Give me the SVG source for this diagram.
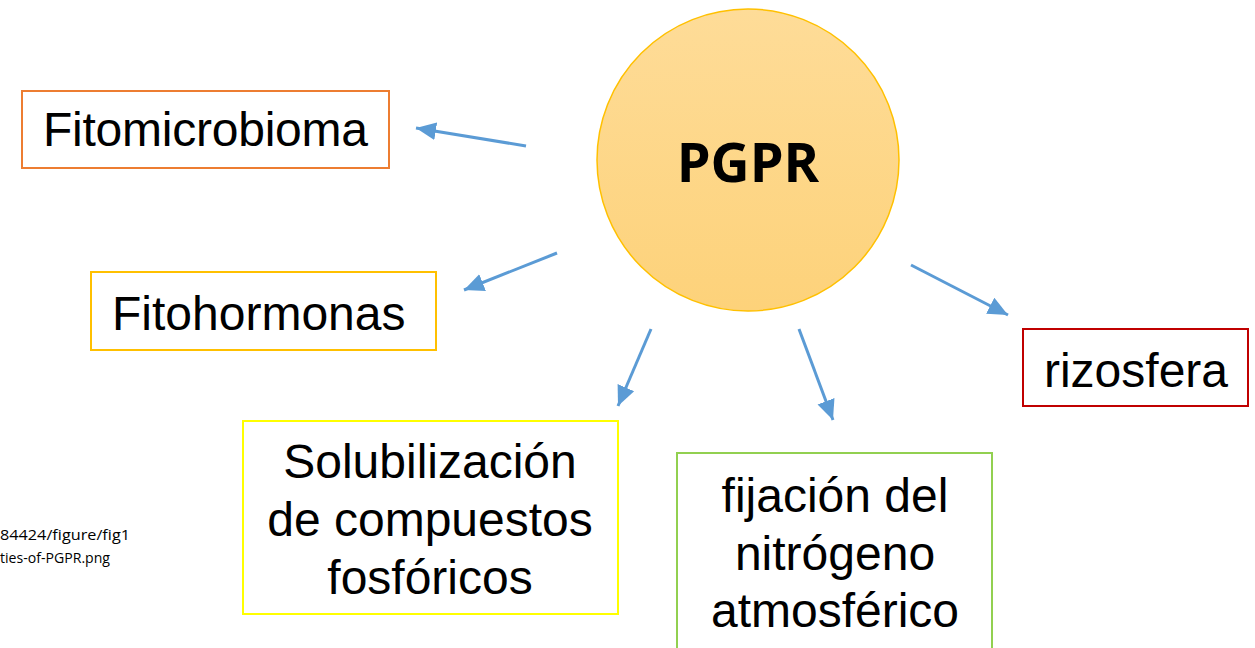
<svg xmlns="http://www.w3.org/2000/svg" width="1255" height="648" viewBox="0 0 1255 648">
<style>
.box{fill:#fff;stroke-width:2}
.t{font-family:"Liberation Sans",Arial,sans-serif;font-size:48px;fill:#000}
.c{text-anchor:middle}
.conn{stroke:#5B9BD5;stroke-width:3;fill:none}
.src{font-family:"Open Sans","Liberation Sans",sans-serif;font-size:14px;fill:#000}
</style>
<defs>
<linearGradient id="g" x1="0" y1="0" x2="0" y2="1">
<stop offset="0" stop-color="#FEDC98"/>
<stop offset="1" stop-color="#FDD27A"/>
</linearGradient>
<marker id="ah" markerUnits="userSpaceOnUse" markerWidth="22" markerHeight="22" viewBox="0 0 22 22" refX="20" refY="11" orient="auto">
<path d="M0,2 L20,11 L0,20 Z" fill="#5B9BD5"/>
</marker>
</defs>
<rect width="1255" height="648" fill="#fff"/>
<g id="source">
<text class="src" x="0" y="540" textLength="130" lengthAdjust="spacingAndGlyphs">84424/figure/fig1</text>
<text class="src" x="0" y="563" textLength="110" lengthAdjust="spacingAndGlyphs">ties-of-PGPR.png</text>
</g>
<g id="connectors">
<line class="conn" x1="526" y1="146" x2="416" y2="128" marker-end="url(#ah)"/>
<line class="conn" x1="557" y1="253" x2="464" y2="290" marker-end="url(#ah)"/>
<line class="conn" x1="651" y1="329" x2="618" y2="406" marker-end="url(#ah)"/>
<line class="conn" x1="799" y1="329" x2="833" y2="420" marker-end="url(#ah)"/>
<line class="conn" x1="911" y1="265" x2="1008" y2="315" marker-end="url(#ah)"/>
</g>
<g id="pgpr">
<circle cx="748" cy="160" r="151" fill="url(#g)" stroke="#FFC000" stroke-width="1.5"/>
<text x="748" y="182" text-anchor="middle" font-family="'Open Sans','Liberation Sans',sans-serif" font-weight="bold" font-size="54">PGPR</text>
</g>
<g id="fitomicrobioma">
<rect class="box" x="22" y="91" width="367" height="77" stroke="#ED7D31"/>
<text class="t" x="43" y="146" textLength="325">Fitomicrobioma</text>
</g>
<g id="fitohormonas">
<rect class="box" x="91" y="272" width="345" height="78" stroke="#FFC000"/>
<text class="t" x="112" y="330">Fitohormonas</text>
</g>
<g id="solubilizacion">
<rect class="box" x="243" y="421" width="375" height="193" stroke="#FFFF00"/>
<text class="t c" x="430" y="478">Solubilización</text>
<text class="t c" x="430" y="536">de compuestos</text>
<text class="t c" x="430" y="594">fosfóricos</text>
</g>
<g id="fijacion">
<rect class="box" x="677" y="453" width="315" height="197" stroke="#92D050"/>
<text class="t c" x="835" y="512">fijación del</text>
<text class="t c" x="835" y="570">nitrógeno</text>
<text class="t c" x="835" y="627">atmosférico</text>
</g>
<g id="rizosfera">
<rect class="box" x="1023" y="329" width="225" height="77" stroke="#C00000"/>
<text class="t c" x="1136" y="387">rizosfera</text>
</g>
</svg>
